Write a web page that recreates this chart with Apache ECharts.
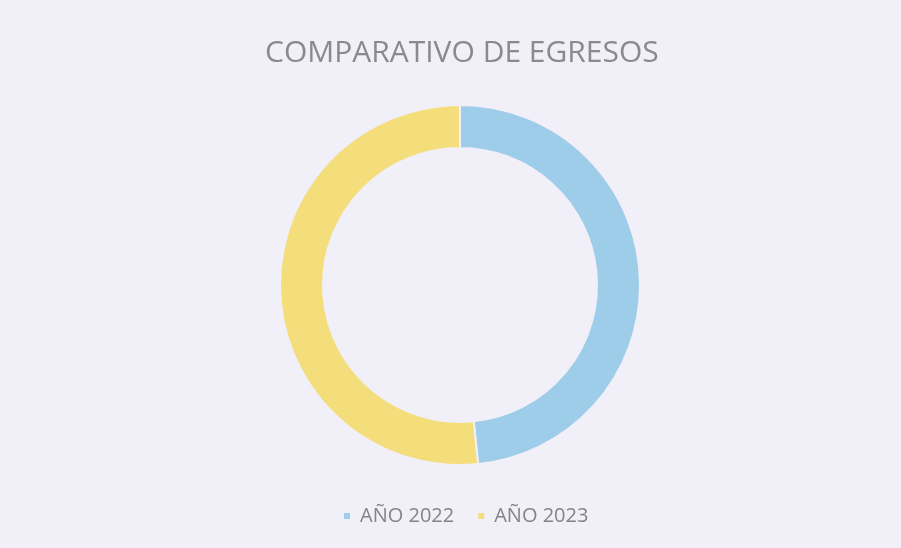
<!DOCTYPE html>
<html>
<head>
    <meta charset="utf-8">
    <title>Comparativo de egresos</title>
    <script src="https://cdn.jsdelivr.net/npm/echarts@6/dist/echarts.min.js"></script>
</head>
<body style="margin:0px;background:#f1eff7;">
    <div id="main" style="width:901px;height:548px;"></div>
    <script type="text/javascript">
    var categories = ['AÑO 2022', 'AÑO 2023'];
    var values = [48.4, 51.6];
    var colors = ['#9ecdea', '#f4de7c'];

    var myChart = echarts.init(document.getElementById('main'));

    myChart.setOption({
        backgroundColor: '#f1eff7',
        color: colors,
        title: {
            text: 'COMPARATIVO DE EGRESOS',
            left: 260,
            top: 33,
            textStyle: {
                color: '#8a8a8e',
                fontFamily: 'Open Sans',
                fontWeight: 'normal',
                fontSize: 30
            }
        },
        legend: {
            data: categories,
            bottom: 17,
            left: 337,
            icon: 'rect',
            itemWidth: 8,
            itemHeight: 8,
            itemGap: 22,
            textStyle: {
                color: '#848488',
                fontFamily: 'Open Sans',
                fontSize: 20,
                padding: [0, 0, 0, 4]
            }
        },
        series: [{
            type: 'pie',
            center: [460, 285],
            radius: [137, 180],
            startAngle: 90,
            clockwise: true,
            label: { show: false },
            labelLine: { show: false },
            emphasis: { scale: false },
            itemStyle: {
                borderColor: '#f1eff7',
                borderWidth: 2
            },
            data: categories.map(function (c, i) {
                return { name: c, value: values[i] };
            })
        }]
    });
    </script>
</body>
</html>
